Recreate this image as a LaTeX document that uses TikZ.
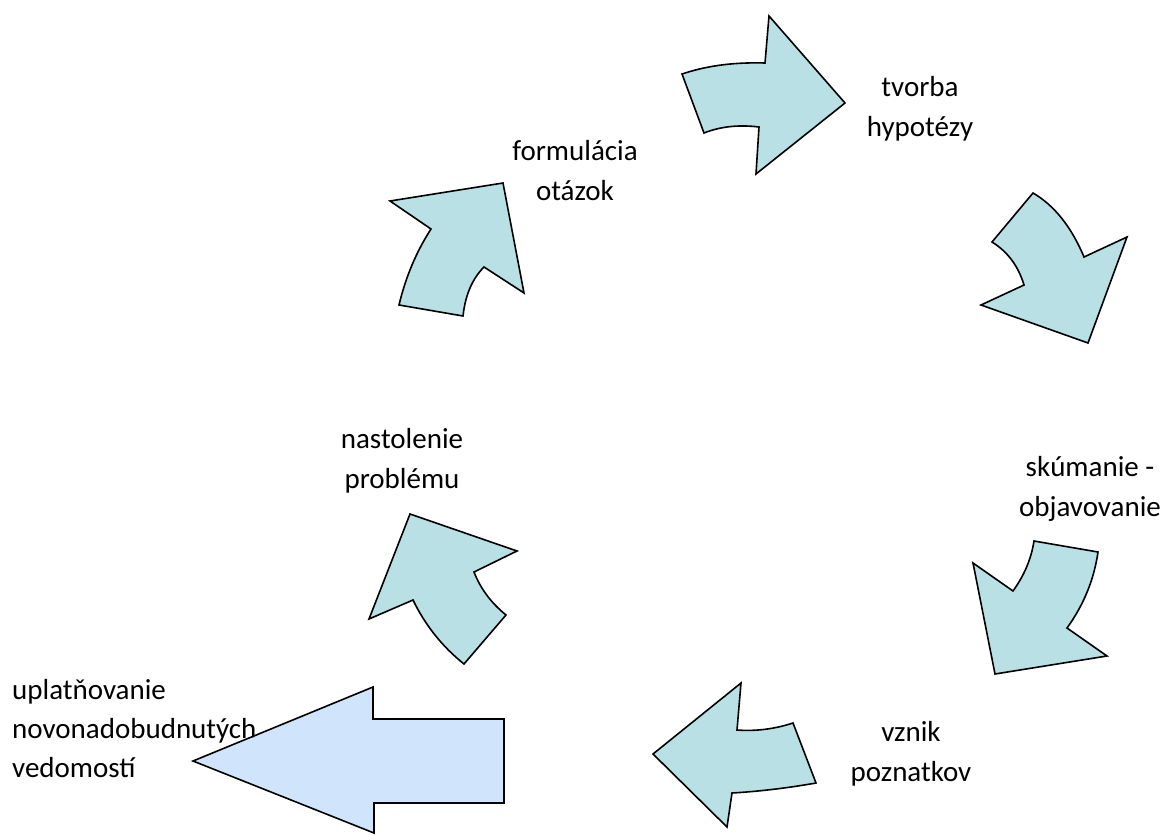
\documentclass[tikz,border=0pt]{standalone}
\usepackage{fontspec}
\setmainfont{Carlito}
\definecolor{teal}{RGB}{185,224,228}
\definecolor{lblue}{RGB}{196,222,250}
\begin{document}
\begin{tikzpicture}[x=1pt,y=-1pt,
  cyc/.style={draw=black, line width=1.6pt, line join=miter, fill=teal},
  big/.style={draw=black, line width=1.6pt, fill=lblue, fill opacity=0.8},
  lbl/.style={font=\fontsize{29}{39.5}\selectfont, inner sep=0pt, align=center, anchor=base},
  lbll/.style={font=\fontsize{29}{39}\selectfont, inner sep=0pt, align=left, anchor=base west}]
\useasboundingbox (0,0) rectangle (1170,835);
% labels (anchor = baseline of the last line)
\node[lbl] (tvorba) at (920,136) {tvorba\\hypotézy};
\node[lbl] (formul) at (575,200) {formulácia\\otázok};
\node[lbl] (skum) at (1090,516) {skúmanie -\\objavovanie};
\node[lbl] (nast) at (402,488) {nastolenie\\problému};
\node[lbl] (vznik) at (911,781) {vznik\\poznatkov};
\node[lbll] (uplat) at (12,777) {uplatňovanie\\novonadobudnutých\\vedomostí};
% arrow 1 (top, to the right)
\draw[cyc] (682,74) .. controls (703,67) and (728.7,62) .. (765,63)
  -- (769,16) -- (845,103) -- (756,174) -- (759,127)
  .. controls (738.7,124.5) and (720.3,126.5) .. (704,133) -- cycle;
% arrow 2 (formulacia)
\draw[cyc] (390,201) -- (503,183) -- (524,293) -- (484,267)
  .. controls (472.3,278.7) and (465.3,295) .. (463,316) -- (399,305)
  .. controls (405.7,277) and (416.3,251.7) .. (431,229) -- cycle;
% arrow 3 (right, down-right)
\draw[cyc] (1033,193) -- (992,242)
  .. controls (1007.6,251.7) and (1018.3,266) .. (1024,285)
  -- (981,305) -- (1088,343) -- (1127,237) -- (1084,257)
  .. controls (1071.3,226.7) and (1054.3,205.4) .. (1033,193) -- cycle;
% arrow 4 (right lower, down-left)
\draw[cyc] (1034,541) -- (1098,552)
  .. controls (1094,579.6) and (1083.7,604.9) .. (1067,628)
  -- (1107,656) -- (995,674) -- (973,563) -- (1013,591)
  .. controls (1024.3,575.3) and (1031.3,558.6) .. (1034,541) -- cycle;
% arrow 5 (bottom, to the left)
\draw[cyc] (653,754) -- (741,683) -- (737,730)
  .. controls (755.7,731.4) and (774.3,729.1) .. (793,723)
  -- (816,783)
  .. controls (787.1,788.1) and (759.1,791.4) .. (732,793)
  -- (727,827) -- cycle;
% arrow 6 (nastolenie, up-left)
\draw[cyc] (410,514) -- (517,551) -- (474,572)
  .. controls (480.3,588.3) and (490.9,602.7) .. (506,615)
  -- (464,664)
  .. controls (442.3,646.7) and (425.3,625.3) .. (413,600)
  -- (369,619) -- cycle;
% big blue arrow
\draw[big] (193,761) -- (373,687) -- (373,719) -- (504,719) -- (504,803)
  -- (374,803) -- (374,833) -- cycle;
\end{tikzpicture}
\end{document}
